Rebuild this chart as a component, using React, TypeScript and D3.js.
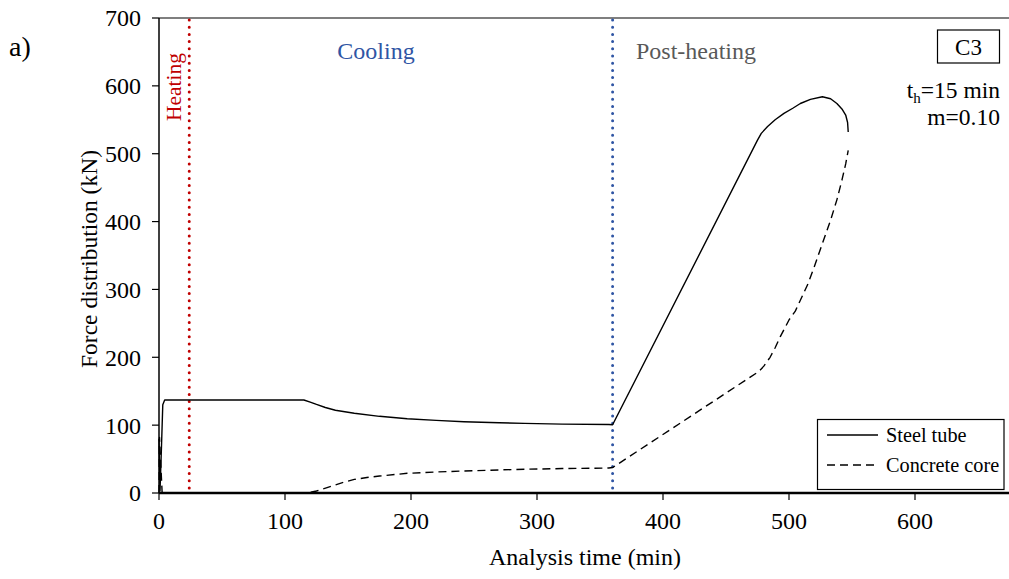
import React from "react";
import * as d3 from "d3";

const steelT = [0, 0.8, 2, 3, 4.5, 115, 120, 125, 132, 140, 155, 175, 197, 220, 242, 270, 290, 320, 357, 360, 475, 478, 483, 489, 496, 503, 509, 517, 526.5, 533, 538, 542, 545, 546.5, 547];
const steelF = [80, 3, 70, 130, 137, 137, 134, 130.5, 126, 122, 117.5, 113, 109.5, 107, 105, 103.5, 102.6, 101.5, 101, 100.5, 520, 530, 540, 550, 559.5, 567, 574, 580, 584, 581, 574, 566, 557, 546, 532];
const concT = [0, 0.4, 2.5, 118, 125, 130, 137, 145, 155, 165, 175, 197, 220, 242, 270, 290, 320, 357, 360, 476, 480, 485, 489, 493, 500, 505, 509, 515, 520, 526, 533, 538, 542, 545, 547];
const concF = [0, 82, 0, 0, 3, 6, 10, 15, 20, 22.8, 25, 29, 31, 32.4, 34, 35, 36, 36.8, 37.5, 179, 187, 200, 214, 230, 255, 268, 284, 308, 333, 365, 402, 432, 461, 485, 505];
const xTicks = [0, 100, 200, 300, 400, 500, 600];
const yTicks = [0, 100, 200, 300, 400, 500, 600, 700];
const heatingEnd = 24;
const coolingEnd = 360;

const W = 1009, H = 579;
const FONT = "'Liberation Serif', 'Times New Roman', serif";

export default function App() {
  const x = d3.scaleLinear().domain([0, 100]).range([159, 285]);
  const y = d3.scaleLinear().domain([0, 700]).range([493, 18]);
  const line = d3.line<[number, number]>().x(d => x(d[0])).y(d => y(d[1])).curve(d3.curveLinear);
  const steel = steelT.map((t, i) => [t, steelF[i]] as [number, number]);
  const conc = concT.map((t, i) => [t, concF[i]] as [number, number]);
  const x0 = x(0), yb = y(0), yt = y(700);
  return (
    <svg width={W} height={H} style={{ position: "absolute", left: 0, top: 0, background: "#fff" }} fontFamily={FONT}>
      <rect x={0} y={0} width={W} height={H} fill="#fff" />
      <line x1={x0} x2={W} y1={yt} y2={yt} stroke="#555" strokeWidth={1.5} />
      <line x1={x0} x2={x0} y1={yt} y2={yb} stroke="#000" strokeWidth={1.5} />
      {yTicks.map(v => (
        <g key={"y" + v}>
          <line x1={x0 - 7} x2={x0} y1={y(v)} y2={y(v)} stroke="#000" strokeWidth={1.2} />
          <text x={x0 - 18} y={y(v)} dy="0.35em" textAnchor="end" fontSize={24}>{v}</text>
        </g>
      ))}
      {xTicks.map(v => (
        <g key={"x" + v}>
          <line x1={x(v)} x2={x(v)} y1={yb} y2={yb + 7} stroke="#000" strokeWidth={1.2} />
          <text x={x(v)} y={yb + 36} textAnchor="middle" fontSize={24}>{v}</text>
        </g>
      ))}
      <line x1={x(heatingEnd)} x2={x(heatingEnd)} y1={yt + 2} y2={yb} stroke="#c00000" strokeWidth={3} strokeDasharray="0 7.2" strokeLinecap="round" />
      <line x1={x(coolingEnd)} x2={x(coolingEnd)} y1={yt + 2} y2={yb} stroke="#2f55a4" strokeWidth={3} strokeDasharray="0 7.2" strokeLinecap="round" />
      <path d={line(conc) || ""} fill="none" stroke="#000" strokeWidth={1.4} strokeDasharray="8 5" strokeLinejoin="round" />
      <path d={line(steel) || ""} fill="none" stroke="#000" strokeWidth={1.4} strokeLinejoin="round" />
      <line x1={x0} x2={W} y1={yb} y2={yb} stroke="#000" strokeWidth={2.5} />
      <text x={585} y={565} textAnchor="middle" fontSize={24}>Analysis time (min)</text>
      <text transform={`translate(97,259) rotate(-90)`} textAnchor="middle" fontSize={23.5}>Force distribution (kN)</text>
      <text x={9} y={56} fontSize={28}>a)</text>
      <text transform={`translate(181,87) rotate(-90)`} textAnchor="middle" fontSize={21.5} fill="#c00000">Heating</text>
      <text x={376} y={59} textAnchor="middle" fontSize={24} fill="#2f55a4">Cooling</text>
      <text x={696} y={59} textAnchor="middle" fontSize={24} fill="#595959">Post-heating</text>
      <rect x={937.5} y={30} width={62} height={33} fill="#fff" stroke="#000" strokeWidth={1.2} />
      <text x={968.5} y={55} textAnchor="middle" fontSize={23}>C3</text>
      <text x={1000} y={98} textAnchor="end" fontSize={23.5}>t<tspan fontSize={15} dy={5}>h</tspan><tspan dy={-5}>=15 min</tspan></text>
      <text x={1000} y={125} textAnchor="end" fontSize={23.5}>m=0.10</text>
      <rect x={817.5} y={419.5} width={186.5} height={70} fill="#fff" stroke="#000" strokeWidth={1.2} />
      <line x1={827} x2={878} y1={435} y2={435} stroke="#000" strokeWidth={1.4} />
      <line x1={827} x2={878} y1={465} y2={465} stroke="#000" strokeWidth={1.4} strokeDasharray="8 5" />
      <text x={886} y={435} dy="0.35em" fontSize={20.3}>Steel tube</text>
      <text x={886} y={465} dy="0.35em" fontSize={20.3}>Concrete core</text>
    </svg>
  );
}
